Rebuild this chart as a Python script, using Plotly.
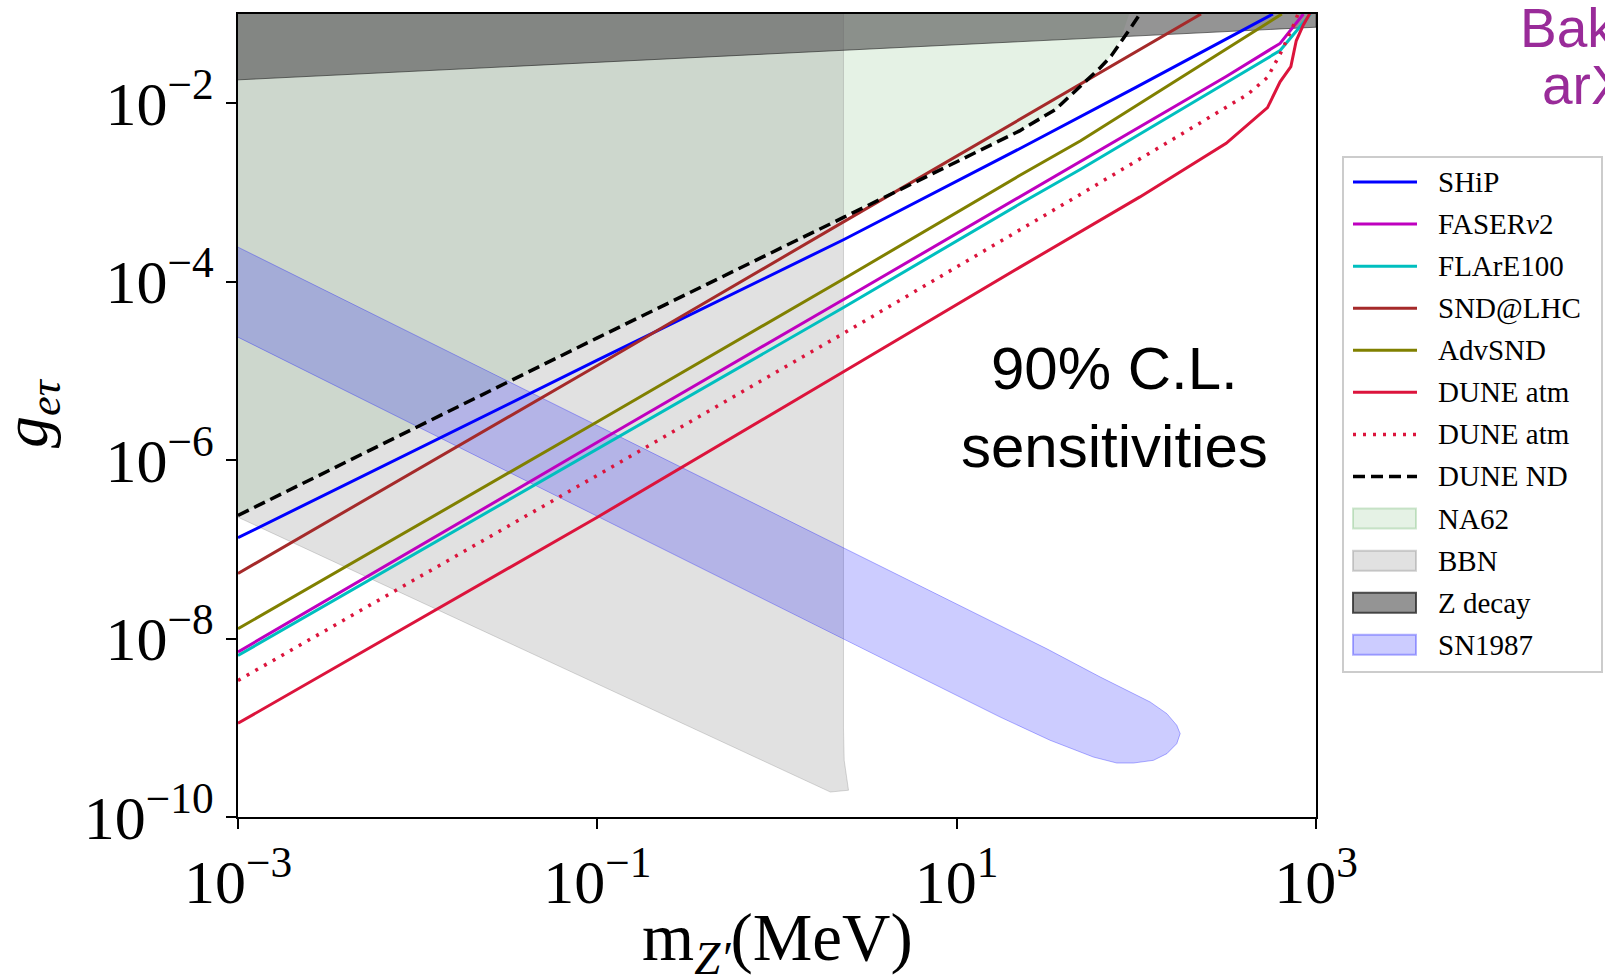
import numpy as np
import plotly.graph_objects as go

# ---- data (log10 values) ----
# sensitivity curves: log10(m_Z' / MeV) and log10(g_etau)
ship_lm = [-3, -1, 0.37, 1.35, 2.0, 2.76]
ship_lg = [-6.87, -4.88, -3.53, -2.51, -1.82, -1.0]

faser_lm = [-3, -1, 0.37, 1.35, 1.69, 2.5, 2.8, 2.93]
faser_lg = [-8.15, -5.80, -4.20, -3.05, -2.66, -1.70, -1.33, -1.0]

flare_lm = [-3, -1, 0.37, 1.35, 1.69, 2.5, 2.8, 2.97]
flare_lg = [-8.19, -5.88, -4.29, -3.13, -2.74, -1.77, -1.41, -1.0]

snd_lm = [-3, -1, 0.37, 1.35, 2.36]
snd_lg = [-7.27, -4.94, -3.33, -2.18, -1.0]

advsnd_lm = [-3, -1, 0.37, 1.35, 1.69, 2.81]
advsnd_lg = [-7.89, -5.57, -3.97, -2.81, -2.42, -1.0]

duneatm_lm = [-3, -1, 0.37, 1.35, 2.02, 2.5, 2.73, 2.8, 2.86, 2.89, 2.93, 2.97]
duneatm_lg = [-8.95, -6.64, -5.01, -3.84, -3.05, -2.45, -2.05, -1.76, -1.59, -1.30, -1.12, -0.98]

duneatm2_lm = [-3, -1, 0.37, 1.35, 1.69, 2.24, 2.62, 2.73, 2.8, 2.87, 2.91]
duneatm2_lg = [-8.47, -6.17, -4.58, -3.43, -3.02, -2.36, -1.90, -1.71, -1.45, -1.15, -0.95]

dunend_lm = [-3, -1, 0.37, 1.0, 1.35, 1.55, 1.69, 1.8, 1.86, 1.91, 1.97, 2.02]
dunend_lg = [-6.62, -4.63, -3.28, -2.65, -2.31, -2.07, -1.80, -1.60, -1.47, -1.33, -1.15, -1.0]

# excluded regions (closed outlines)
na62_lm = [-3, -1, 0.37, 1.0, 1.35, 1.55, 1.69, 1.8, 1.86, 1.91, 1.96, 1.96, -3]
na62_lg = [-6.62, -4.63, -3.28, -2.65, -2.31, -2.08, -1.82, -1.62, -1.46, -1.30, -1.0, -0.5, -0.5]

bbn_lm = [-3, 0.297, 0.398, 0.374, 0.370, 0.370, -3]
bbn_lg = [-6.64, -9.72, -9.70, -9.365, -9.0, -0.5, -0.5]

zdec_lm = [-3, 3, 3, -3]
zdec_lg = [-1.738, -1.148, -0.5, -0.5]

sn_lm = [-3, 1.502, 1.799, 2.077, 2.170, 2.225, 2.244, 2.225, 2.170, 2.095, 1.984,
         1.891, 1.761, 1.52, 1.242, -3]
sn_lg = [-3.613, -8.115, -8.431, -8.711, -8.842, -8.972, -9.066, -9.178, -9.29, -9.365,
         -9.395, -9.395, -9.328, -9.14, -8.88, -4.622]

x_ticks = [1e-3, 1e-1, 1e1, 1e3]
x_ticktext = ["10<sup>−3</sup>", "10<sup>−1</sup>", "10<sup>1</sup>", "10<sup>3</sup>"]
y_ticks = [1e-10, 1e-8, 1e-6, 1e-4, 1e-2]
y_ticktext = ["10<sup>−10</sup>", "10<sup>−8</sup>", "10<sup>−6</sup>", "10<sup>−4</sup>", "10<sup>−2</sup>"]

legend_labels = ["SHiP", "FASER<i>ν</i>2", "FLArE100", "SND@LHC", "AdvSND", "DUNE atm",
                 "DUNE atm", "DUNE ND", "NA62", "BBN", "Z decay", "SN1987"]


def p(v):
    return 10.0 ** np.array(v, dtype=float)


SERIF = "Liberation Serif"
W, H = 1605, 978
ML, MR, MT, MB = 238, 289, 14, 161
PW, PH = W - ML - MR, H - MT - MB


def px(x):
    return (x - ML) / PW


def py(y):
    return 1 - (y - MT) / PH


fig = go.Figure()

# styles: (fill, edge) for regions
na62_style = ("rgba(0,128,0,0.10)", "rgba(0,128,0,0.12)")
bbn_style = ("rgba(128,128,128,0.24)", "rgba(128,128,128,0.3)")
zdec_style = ("rgba(90,90,90,0.65)", "rgba(30,30,30,0.6)")
sn_style = ("rgba(0,0,255,0.2)", "rgba(0,0,255,0.3)")

# ---- filled regions ----
for lm, lg, st in [(na62_lm, na62_lg, na62_style), (bbn_lm, bbn_lg, bbn_style),
                   (zdec_lm, zdec_lg, zdec_style), (sn_lm, sn_lg, sn_style)]:
    fig.add_trace(go.Scatter(x=p(lm), y=p(lg), fill="toself", mode="lines",
                             fillcolor=st[0], line=dict(width=1 if st is not na62_style else 0, color=st[1]),
                             showlegend=False, hoverinfo="skip"))

# ---- sensitivity lines ----
line_specs = {
    "SHiP": (ship_lm, ship_lg, "#0000ff", "solid"),
    "FASERν2": (faser_lm, faser_lg, "#bf00bf", "solid"),
    "FLArE100": (flare_lm, flare_lg, "#00bfbf", "solid"),
    "SND@LHC": (snd_lm, snd_lg, "#a52a2a", "solid"),
    "AdvSND": (advsnd_lm, advsnd_lg, "#808000", "solid"),
    "DUNE atm": (duneatm_lm, duneatm_lg, "#dc143c", "solid"),
    "DUNE atm dotted": (duneatm2_lm, duneatm2_lg, "#dc143c", "3px,7px"),
    "DUNE ND": (dunend_lm, dunend_lg, "#000000", "12px,6px"),
}
draw_order = ["SHiP", "SND@LHC", "AdvSND", "FLArE100", "FASERν2", "DUNE atm",
              "DUNE atm dotted", "DUNE ND"]
for key in draw_order:
    lm, lg, col, dash = line_specs[key]
    w = 3.5 if dash != "solid" else 3
    fig.add_trace(go.Scatter(x=p(lm), y=p(lg), mode="lines", name=key,
                             line=dict(color=col, width=w, dash=dash), showlegend=False))

# ---- legend (drawn as layout shapes + text) ----
shapes = []
annotations = []
shapes.append(dict(type="rect", xref="paper", yref="paper", x0=px(1343), x1=px(1602),
                   y0=py(157), y1=py(672), fillcolor="white", line=dict(color="#cccccc", width=2),
                   layer="above"))
legend_keys = ["SHiP", "FASERν2", "FLArE100", "SND@LHC", "AdvSND", "DUNE atm",
               "DUNE atm dotted", "DUNE ND", "NA62", "BBN", "Z decay", "SN1987"]
region_styles = {"NA62": na62_style, "BBN": bbn_style, "Z decay": zdec_style, "SN1987": sn_style}
region_edges = {"NA62": "rgba(0,128,0,0.18)", "BBN": "rgba(128,128,128,0.35)",
                "Z decay": "rgba(40,40,40,0.8)", "SN1987": "rgba(0,0,255,0.3)"}
for i, (key, label) in enumerate(zip(legend_keys, legend_labels)):
    yc = 182.0 + 42.07 * i
    if key in line_specs:
        _, _, col, dash = line_specs[key]
        shapes.append(dict(type="line", xref="paper", yref="paper", x0=px(1353), x1=px(1417),
                           y0=py(yc), y1=py(yc), layer="above",
                           line=dict(color=col, width=3.5 if dash != "solid" else 3, dash=dash)))
    else:
        fc = region_styles[key][0]
        shapes.append(dict(type="rect", xref="paper", yref="paper", x0=px(1353), x1=px(1416),
                           y0=py(yc + 10), y1=py(yc - 10), layer="above",
                           fillcolor=fc, line=dict(color=region_edges[key], width=2)))
    annotations.append(dict(text=label, xref="paper", yref="paper", x=px(1436), y=py(yc),
                            xanchor="left", yanchor="middle", showarrow=False,
                            font=dict(family=SERIF, size=29, color="black")))

axis_common = dict(type="log", showgrid=False, zeroline=False, showline=True, mirror=True,
                   linecolor="black", linewidth=2, ticks="outside", ticklen=10, tickwidth=2,
                   tickcolor="black",
                   tickfont=dict(family=SERIF, size=62, color="black"))

annotations += [
    dict(text="m<sub><i>Z′</i></sub>(MeV)", xref="paper", yref="paper", x=0.5, y=-0.156,
         xanchor="center", yanchor="middle", showarrow=False,
         font=dict(family=SERIF, size=67, color="black")),
    dict(text="<i>g</i><sub><i>eτ</i></sub>", xref="paper", yref="paper", x=-0.193, y=0.503,
         xanchor="center", yanchor="middle", showarrow=False, textangle=-90,
         font=dict(family=SERIF, size=64, color="black")),
    dict(text="90% C.L.<br>sensitivities", xref="paper", yref="paper", x=0.8127, y=0.51,
         xanchor="center", yanchor="middle", showarrow=False,
         font=dict(family="Liberation Sans", size=60, color="black")),
    dict(text="Bakhti et al.", xref="paper", yref="paper", x=1.187, y=0.982,
         xanchor="left", yanchor="middle", showarrow=False,
         font=dict(family="Liberation Sans", size=55, color="#992b99")),
    dict(text="arXiv", xref="paper", yref="paper", x=1.208, y=0.912,
         xanchor="left", yanchor="middle", showarrow=False,
         font=dict(family="Liberation Sans", size=55, color="#992b99")),
]

fig.update_layout(
    width=W, height=H,
    margin=dict(l=ML, r=MR, t=MT, b=MB),
    paper_bgcolor="white", plot_bgcolor="white",
    xaxis=dict(range=[-3, 3], tickvals=x_ticks, ticktext=x_ticktext, **axis_common),
    yaxis=dict(range=[-10, -1], tickvals=y_ticks, ticktext=y_ticktext, **axis_common),
    showlegend=False,
    shapes=shapes,
    annotations=annotations,
)

fig.write_html("out.html", config={"displayModeBar": False},
               post_script="document.body.style.margin='0';")
